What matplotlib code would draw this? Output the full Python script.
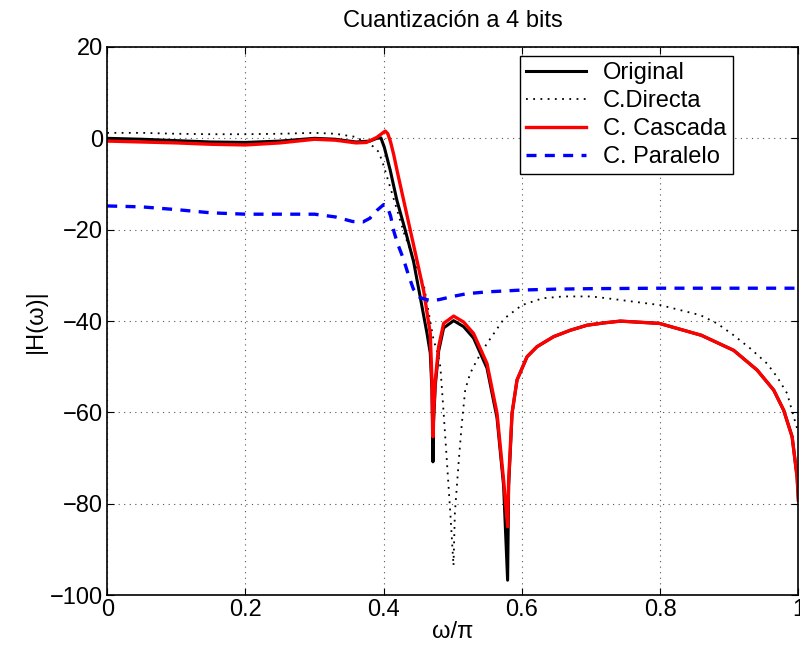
import matplotlib
matplotlib.use("Agg")
import matplotlib.pyplot as plt

plt.rcParams['font.family'] = ['Liberation Sans', 'DejaVu Sans']

# Original (black solid)
x_orig = [0, 0.05, 0.1, 0.15, 0.2, 0.25, 0.3, 0.33, 0.36, 0.38, 0.39, 0.396,
          0.401, 0.4095, 0.419, 0.431, 0.4433, 0.4627, 0.4674, 0.4698, 0.4713,
          0.4722, 0.4747, 0.4795, 0.4867, 0.5012, 0.5156, 0.530, 0.5495, 0.564,
          0.5735, 0.5793, 0.5808, 0.5832, 0.5857, 0.5929, 0.6074, 0.6218, 0.6459,
          0.670, 0.6942, 0.7183, 0.7424, 0.7988, 0.8596, 0.9064, 0.9402, 0.9643,
          0.9787, 0.9909, 0.9981, 1.0]
y_orig = [0, -0.2, -0.5, -0.8, -0.9, -0.6, 0, -0.2, -0.8, -0.6, 0, 0.1,
          -2, -7, -13.5, -20, -27, -42.7, -47, -55, -70.8,
          -62, -54, -46.6, -41.5, -39.9, -41.2, -43.7, -50.3, -61.2,
          -76, -96.7, -76, -68.5, -60.2, -52.9, -47.8, -45.6, -43.4,
          -42.0, -40.9, -40.4, -40.0, -40.5, -43.1, -46.4, -50.7, -55.1,
          -59.5, -65.3, -74.1, -79.2]

# C.Directa (black dotted)
x_dir = [0, 0.05, 0.1, 0.15, 0.2, 0.25, 0.3, 0.33, 0.36, 0.375, 0.385, 0.393,
         0.4, 0.41, 0.42, 0.43, 0.445, 0.458, 0.465, 0.472, 0.478, 0.482, 0.4867,
         0.4916, 0.4964, 0.501, 0.503, 0.5084, 0.513, 0.518, 0.525, 0.535,
         0.549, 0.574, 0.6, 0.63, 0.66, 0.7, 0.7231, 0.8003, 0.8582, 0.8823,
         0.9064, 0.9305, 0.9547, 0.9691, 0.9836, 0.9932, 1.0]
y_dir = [1.2, 1.2, 1.0, 0.9, 0.9, 1.0, 1.2, 1.0, 0.3, -1.0, -1.8, -3,
         -6, -11, -16, -21, -27, -32, -38, -44, -47, -50, -60,
         -71, -82, -93.5, -82, -71, -62.5, -55, -51.5, -48.5,
         -45, -39.5, -36.5, -35, -34.6, -34.6, -35.0, -36.5, -38.7, -40.5,
         -43.1, -46, -49.3, -52.2, -55.8, -60.9, -64.5]

# C. Cascada (red solid)
x_casc = [0, 0.05, 0.1, 0.15, 0.2, 0.25, 0.3, 0.33, 0.36, 0.375, 0.39, 0.397,
          0.4023, 0.406, 0.41, 0.4144, 0.42, 0.4288, 0.448, 0.458, 0.4674, 0.4698,
          0.4713, 0.4722, 0.4747, 0.4795, 0.4867, 0.5012, 0.5156, 0.530, 0.5495,
          0.564, 0.5735, 0.5793, 0.5808, 0.5832, 0.5857, 0.5929, 0.6074, 0.6218,
          0.6459, 0.670, 0.6942, 0.7183, 0.7424, 0.7988, 0.8596, 0.9064, 0.9402,
          0.9643, 0.9787, 0.9909, 0.9981, 1.0]
y_casc = [-0.6, -0.8, -1.0, -1.3, -1.45, -1.0, -0.2, -0.4, -1.0, -0.9, 0.2, 1.0,
          1.6, 1.0, -0.8, -3.5, -7.5, -13.5, -26.6, -33.5, -42.7, -52.9,
          -65.3, -60.2, -52.9, -45.6, -40.5, -38.9, -40.2, -42.7, -49.3,
          -60.2, -74.8, -85, -74.8, -67.5, -60.2, -52.9, -47.8, -45.6,
          -43.4, -42.0, -40.9, -40.4, -40.0, -40.5, -43.1, -46.4, -50.7,
          -55.1, -59.5, -65.3, -74.1, -79.2]

# C. Paralelo (blue dashed)
x_par = [0, 0.05, 0.1, 0.15, 0.2, 0.25, 0.3, 0.33, 0.355, 0.37, 0.38, 0.39,
         0.4, 0.405, 0.41, 0.415, 0.42, 0.4286, 0.436, 0.443, 0.452, 0.462,
         0.47, 0.48, 0.5, 0.52, 0.55, 0.6, 0.65, 0.7, 0.8, 0.9, 1.0]
y_par = [-14.8, -15.0, -15.6, -16.3, -16.6, -16.6, -16.6, -17.2, -18.2, -18.3, -17.5, -15.8,
         -14.5, -14.8, -17, -20.5, -23, -26.4, -30, -33, -34.8, -35.3,
         -35.5, -35.3, -34.6, -34, -33.6, -33.2, -33.0, -32.9, -32.8, -32.8, -32.8]

fig = plt.figure(figsize=(8, 6.52), dpi=100)
ax = fig.add_axes([0.134, 0.087, 0.864, 0.841])

ax.plot(x_orig, y_orig, color='black', lw=2.2, label='Original')
ax.plot(x_dir, y_dir, color='black', lw=1.3, ls=(0, (1, 3)), label='C.Directa')
ax.plot(x_casc, y_casc, color='red', lw=2.4, label='C. Cascada')
ax.plot(x_par, y_par, color='blue', lw=2.4, ls=(0, (3, 2.5)), label='C. Paralelo')

ax.set_xlim(0, 1)
ax.set_ylim(-100, 20)
ax.set_xticks([0, 0.2, 0.4, 0.6, 0.8, 1])
ax.set_xticklabels(['0', '0.2', '0.4', '0.6', '0.8', '1'])
ax.set_yticks([-100, -80, -60, -40, -20, 0, 20])
ax.set_yticklabels(['\u2212100', '\u221280', '\u221260', '\u221240', '\u221220', '0', '20'])
ax.tick_params(direction='in', length=5, top=True, right=True, labelsize=17, pad=3)
ax.grid(True, color='#555555', ls=(0, (1, 4)), lw=0.8)
for s in ax.spines.values():
    s.set_linewidth(1.2)

ax.set_title('Cuantización a 4 bits', fontsize=17, pad=14)
ax.set_xlabel('ω/π', fontsize=17, labelpad=0)
ax.set_ylabel('|H(ω)|', fontsize=17, labelpad=2)

leg = ax.legend(loc='upper right', bbox_to_anchor=(0.905, 0.984), borderaxespad=0,
                fontsize=17, handlelength=2.5, handletextpad=0.75, labelspacing=0.26,
                borderpad=0.26, fancybox=False, framealpha=1)
leg.get_frame().set_edgecolor('black')
leg.get_frame().set_linewidth(1.0)

fig.savefig('out.png', dpi=100)
